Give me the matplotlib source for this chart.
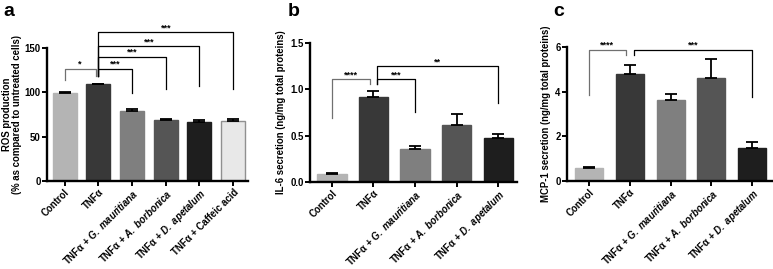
import matplotlib
matplotlib.use("Agg")
import matplotlib.pyplot as plt

plt.rcParams['font.family'] = ['Liberation Sans', 'DejaVu Sans']
plt.rcParams['font.weight'] = 'bold'
plt.rcParams['mathtext.fontset'] = 'custom'
plt.rcParams['mathtext.bfit'] = 'Liberation Sans:bold:italic'
plt.rcParams['mathtext.it'] = 'Liberation Sans:italic'
plt.rcParams['mathtext.bf'] = 'Liberation Sans:bold'
plt.rcParams['mathtext.rm'] = 'Liberation Sans:bold'

# ---- data ----
labels_a = ["Control", "TNFα", r"TNFα + $\mathbfit{G.\ mauritiana}$", r"TNFα + $\mathbfit{A.\ borbonica}$",
            r"TNFα + $\mathbfit{D.\ apetalum}$", "TNFα + Caffeic acid"]
ros = [99, 109, 79, 69, 67, 68]
ros_err = [1.0, 1.0, 2.5, 1.5, 2.0, 1.5]

labels_b = labels_a[:5]
il6 = [0.09, 0.92, 0.36, 0.62, 0.48]
il6_err = [0.01, 0.06, 0.03, 0.12, 0.04]

mcp1 = [0.57, 4.80, 3.65, 4.62, 1.48]
mcp1_err = [0.05, 0.40, 0.25, 0.85, 0.25]

colors = ["#b4b4b4", "#383838", "#7f7f7f", "#555555", "#1e1e1e", "#e8e8e8"]
edges = ["#b4b4b4", "#383838", "#7f7f7f", "#555555", "#1e1e1e", "#909090"]

FS = 6.9

fig = plt.figure(figsize=(7.73, 2.69), dpi=100)

def style(ax, xlim, ylim, yticks, yticklabels):
    ax.set_xlim(*xlim)
    ax.set_ylim(*ylim)
    for s in ['top', 'right']:
        ax.spines[s].set_visible(False)
    for s in ['left', 'bottom']:
        ax.spines[s].set_linewidth(1.7)
    ax.set_yticks(yticks)
    ax.set_yticklabels(yticklabels, fontsize=FS, fontweight='bold')
    ax.tick_params(axis='both', direction='out', length=3.5, width=1.4, pad=1)

def bars(ax, vals, errs, width):
    x = list(range(len(vals)))
    ax.bar(x, vals, width=width, color=colors[:len(vals)], edgecolor=edges[:len(vals)],
           linewidth=1.0, zorder=2)
    ax.errorbar(x, vals, yerr=[[0]*len(vals), errs], fmt='none', ecolor='black',
                elinewidth=1.3, capsize=4, capthick=1.3, zorder=3)

def xt(ax, labels):
    ax.set_xticks(range(len(labels)))
    ax.set_xticklabels(labels, rotation=45, ha='right', rotation_mode='anchor',
                       fontsize=FS, fontweight='bold')

def bracket(ax, x1, x2, y, y1, y2, text, color='black'):
    ax.plot([x1, x1, x2, x2], [y1, y, y, y2], color=color, lw=0.9, clip_on=False, zorder=4)
    ax.text((x1 + x2) / 2, y, text, ha='center', va='bottom', fontsize=6.5,
            fontweight='bold', clip_on=False)

# ---- panel a ----
axa = fig.add_axes([0.0608, 0.327, 0.26, 0.494])
bars(axa, ros, ros_err, 0.71)
style(axa, (-0.52, 5.44), (0, 150), [0, 50, 100, 150], ["0", "50", "100", "150"])
xt(axa, labels_a)
axa.set_ylabel("ROS production\n(% as compared to untreated cells)", fontsize=FS,
               fontweight='bold', labelpad=2, linespacing=1.0)
bracket(axa, 0, 0.92, 127, 114, 119, "*", color='#707070')
bracket(axa, 1.0, 2.0, 127, 119, 99, "***")
bracket(axa, 1.0, 3.0, 140, 119, 104, "***")
bracket(axa, 1.0, 4.0, 152, 119, 107, "***")
bracket(axa, 1.0, 5.0, 168, 119, 104, "***")
fig.text(0.004, 0.99, "a", fontsize=14, fontweight='bold', va='top', ha='left')

# ---- panel b ----
axb = fig.add_axes([0.401, 0.323, 0.268, 0.517])
bars(axb, il6, il6_err, 0.7)
style(axb, (-0.53, 4.46), (0, 1.5), [0, 0.5, 1.0, 1.5], ["0.0", "0.5", "1.0", "1.5"])
xt(axb, labels_b)
axb.set_ylabel("IL-6 secretion (ng/mg total proteins)", fontsize=FS, fontweight='bold', labelpad=3)
bracket(axb, 0, 0.92, 1.11, 0.69, 1.06, "****", color='#707070')
bracket(axb, 1.08, 2.0, 1.11, 1.06, 0.76, "***")
bracket(axb, 1.08, 4.0, 1.25, 1.06, 0.85, "**")
fig.text(0.372, 0.99, "b", fontsize=14, fontweight='bold', va='top', ha='left')

# ---- panel c ----
axc = fig.add_axes([0.7335, 0.327, 0.266, 0.498])
bars(axc, mcp1, mcp1_err, 0.69)
style(axc, (-0.54, 4.5), (0, 6), [0, 2, 4, 6], ["0", "2", "4", "6"])
xt(axc, labels_b)
axc.set_ylabel("MCP-1 secretion (ng/mg total proteins)", fontsize=FS, fontweight='bold', labelpad=3)
bracket(axc, 0, 0.9, 5.87, 3.85, 5.64, "****", color='#707070')
bracket(axc, 1.1, 4.0, 5.87, 5.64, 3.76, "***")
fig.text(0.716, 0.99, "c", fontsize=14, fontweight='bold', va='top', ha='left')

fig.savefig("out.png", dpi=100)
